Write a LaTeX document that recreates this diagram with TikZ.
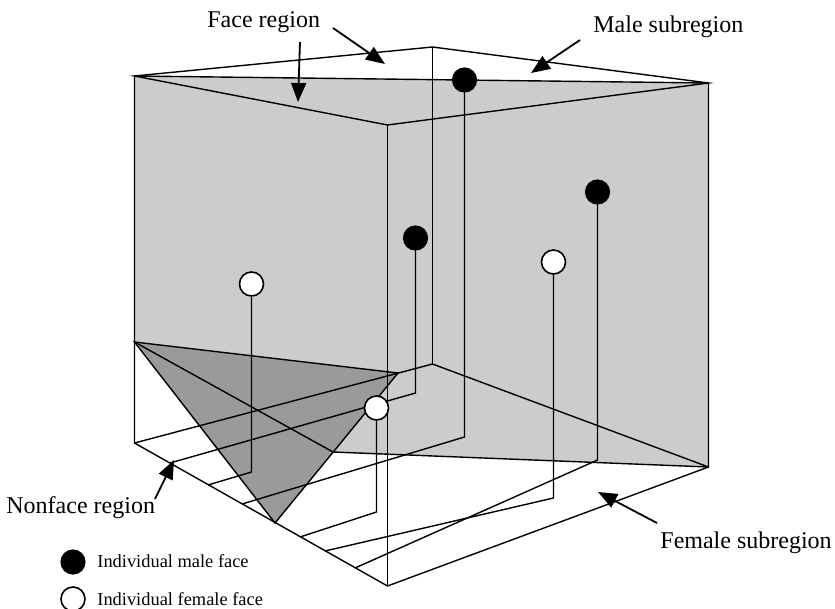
\documentclass[tikz,border=0pt]{standalone}
\usepackage{fontspec}
\setmainfont{Liberation Serif}
\usetikzlibrary{arrows.meta}
\definecolor{face_gray}{HTML}{CCCCCC}
\definecolor{nonface_gray}{HTML}{9A9A9A}

\begin{document}
\begin{tikzpicture}[x=0.5pt, y=-0.5pt,
    edge/.style={line width=0.7pt},
    backedge/.style={line width=0.5pt},
    maledot/.style={circle, fill=black, minimum size=12.6pt, inner sep=0pt},
    femaledot/.style={circle, draw=black, fill=white, line width=0.8pt, minimum size=12pt, inner sep=0pt},
    pointer/.style={line width=0.9pt, -{Triangle[length=9.5pt,width=7.5pt]}},
    regionlabel/.style={font=\fontsize{12}{14}\selectfont, inner sep=0pt, anchor=base west},
    legendtext/.style={font=\fontsize{9.2}{11}\selectfont, inner sep=0pt, anchor=base west}]
    \useasboundingbox (0,0) rectangle (835,609);
    % cube corners
    \coordinate (TL) at (134.5,76);
    \coordinate (TB) at (432.5,47);
    \coordinate (TR) at (708.5,83);
    \coordinate (TF) at (387.5,125);
    \coordinate (BL) at (134.5,443);
    \coordinate (BB) at (432.5,364);
    \coordinate (BR) at (708.5,467);
    \coordinate (BF) at (387.5,586);
    % corners of the nonface part
    \coordinate (P) at (134.5,342);
    \coordinate (R) at (398,373);
    \coordinate (S) at (275,523);
    \coordinate (Q) at (333,452);
    \fill[face_gray] (TL) -- (TR) -- (BR) -- (Q) -- (P) -- cycle;
    \fill[nonface_gray] (P) -- (R) -- (S) -- cycle;
    \draw[edge] (TL) -- (TB) -- (TR) -- (TF) -- cycle;
    \draw[edge] (TL) -- (TR);
    \draw[edge] (TL) -- (BL) -- (BF) -- (BR) -- (TR);
    \draw[edge] (TF) -- (BF);
    \draw[backedge] (TB) -- (BB);
    \draw[edge] (BL) -- (BB) -- (BR);
    \draw[edge] (P) -- (R) -- (S) -- cycle;
    \draw[edge] (P) -- (Q) -- (BR);
    % faces and their drop lines
    \coordinate (m1) at (464.5,80);
    \coordinate (m2) at (597.5,192);
    \coordinate (m3) at (415.5,238);
    \coordinate (f1) at (251.5,284);
    \coordinate (f2) at (553.5,262);
    \coordinate (f3) at (376.5,408);
    \draw[edge] (m1) -- (464.5,437) coordinate (m1f) -- (242,504) coordinate (m1e);
    \draw[edge] (m2) -- (597.5,460) coordinate (m2f) -- (355,568) coordinate (m2e);
    \draw[edge] (m3) -- (415.5,393) coordinate (m3f) -- (170,463) coordinate (m3e);
    \draw[edge] (f1) -- (251.5,472) coordinate (f1f) -- (208,485) coordinate (f1e);
    \draw[edge] (f2) -- (553.5,498) coordinate (f2f) -- (325,551) coordinate (f2e);
    \draw[edge] (f3) -- (376.5,512) coordinate (f3f) -- (300,537) coordinate (f3e);
    \node[maledot] (M1) at (m1) {};
    \node[maledot] (M2) at (m2) {};
    \node[maledot] (M3) at (m3) {};
    \node[femaledot] (F1) at (f1) {};
    \node[femaledot] (F2) at (f2) {};
    \node[femaledot] (F3) at (f3) {};
    % labels
    \node[regionlabel] (face) at (207,28) {Face region};
    \node[regionlabel] (male) at (593,33) {Male subregion};
    \node[regionlabel] (female) at (660,548) {Female subregion};
    \node[regionlabel] (nonface) at (6,513) {Nonface region};
    \coordinate (faceA) at (385,64);
    \coordinate (faceB) at (298,102);
    \coordinate (maleA) at (531,73);
    \coordinate (femaleA) at (598,492);
    \coordinate (nonfaceA) at (174,460);
    \draw[pointer] (333,28) -- (faceA);
    \draw[pointer] (300,42) -- (faceB);
    \draw[pointer] (580,40) -- (maleA);
    \draw[pointer] (657,523) -- (femaleA);
    \draw[pointer] (155,499) -- (nonfaceA);
    % legend
    \node[maledot] (keyM) at (73,562) {};
    \node[femaledot] (keyF) at (73,599) {};
    \node[legendtext] (keyMtext) at (97,567) {Individual male face};
    \node[legendtext] (keyFtext) at (97,605) {Individual female face};
  \end{tikzpicture}
\end{document}
